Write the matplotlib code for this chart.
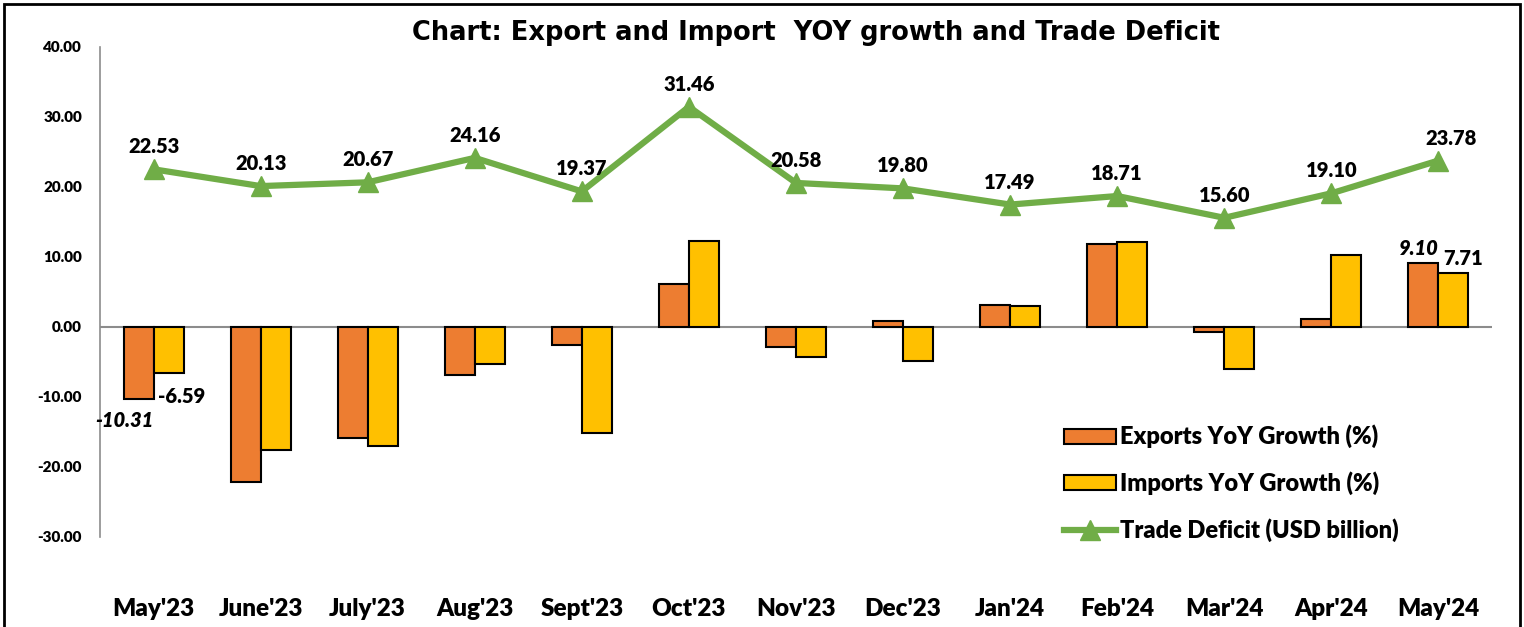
import numpy as np
import matplotlib
matplotlib.use("Agg")
import matplotlib.pyplot as plt
from matplotlib.patches import Rectangle

plt.rcParams['font.family'] = ['Lato', 'DejaVu Sans']

# data
months = ["May'23", "June'23", "July'23", "Aug'23", "Sept'23", "Oct'23", "Nov'23",
          "Dec'23", "Jan'24", "Feb'24", "Mar'24", "Apr'24", "May'24"]
exports = [-10.31, -22.1, -15.9, -6.9, -2.6, 6.1, -2.9, 0.9, 3.1, 11.9, -0.7, 1.1, 9.10]
imports = [-6.59, -17.6, -17.0, -5.3, -15.1, 12.3, -4.3, -4.9, 3.0, 12.1, -6.0, 10.3, 7.71]
deficit = [22.53, 20.13, 20.67, 24.16, 19.37, 31.46, 20.58, 19.80, 17.49, 18.71, 15.60, 19.10, 23.78]
yticks = [-30, -20, -10, 0, 10, 20, 30, 40]

W, H = 1524, 627
fig = plt.figure(figsize=(W / 100, H / 100), dpi=100)
ax = fig.add_axes([100 / W, 1 - 537 / H, 1392 / W, 490 / H])

x = np.arange(len(months))
bw = 0.28
b1 = ax.bar(x - bw / 2, exports, bw, color='#ED7D31', edgecolor='black', linewidth=1.5,
            label='Exports YoY Growth (%)', zorder=3)
b2 = ax.bar(x + bw / 2, imports, bw, color='#FFC000', edgecolor='black', linewidth=1.5,
            label='Imports YoY Growth (%)', zorder=3)
ln, = ax.plot(x, deficit, color='#70AD47', linewidth=4.5, marker='^', markersize=15,
              label='Trade Deficit (USD billion)', zorder=4)

ax.axhline(0, color='#8c8c8c', linewidth=1.5, zorder=2)

lab = dict(fontsize=14.5, fontweight='heavy')

# line labels
for i, v in enumerate(deficit):
    dx = 13 if i == len(deficit) - 1 else 0
    ax.annotate(f'{v:.2f}', (x[i], v), xytext=(dx, 13), textcoords='offset pixels',
                ha='center', va='bottom', zorder=5, **lab)

# bar labels on first and last month
ax.annotate(f'{exports[0]:.2f}', (x[0], exports[0]), xytext=(0, -12), textcoords='offset pixels',
            ha='right', va='top', style='italic', **lab)
ax.annotate(f'{imports[0]:.2f}', (x[0] + bw, imports[0]), xytext=(-2, -14), textcoords='offset pixels',
            ha='center', va='top', **lab)
ax.annotate(f'{exports[-1]:.2f}', (x[-1], exports[-1]), xytext=(0, 5), textcoords='offset pixels',
            ha='right', va='bottom', style='italic', **lab)
ax.annotate(f'{imports[-1]:.2f}', (x[-1], imports[-1]), xytext=(5, 5), textcoords='offset pixels',
            ha='left', va='bottom', **lab)

ax.set_xlim(-0.5, len(months) - 0.5)
ax.set_ylim(-30, 40)
ax.set_yticks(yticks)
ax.set_yticklabels([f'{t:.2f}' for t in yticks], fontsize=11, fontweight='heavy')
ax.set_xticks(x)
ax.set_xticklabels(months, fontsize=17.5, fontweight='heavy')
ax.tick_params(axis='y', length=0, pad=13)
ax.tick_params(axis='x', length=0, pad=44)

for s in ['top', 'right', 'bottom']:
    ax.spines[s].set_visible(False)
ax.spines['left'].set_color('#8c8c8c')
ax.spines['left'].set_linewidth(1.2)

ax.legend([b1, b2, ln], [b1.get_label(), b2.get_label(), ln.get_label()],
          loc='upper left', bbox_to_anchor=(1052 / W, 1 - 413 / H), bbox_transform=fig.transFigure,
          frameon=False, prop={'size': 17, 'weight': 'heavy'}, handlelength=2.2, numpoints=1,
          handleheight=0.6, labelspacing=0.98, handletextpad=0.2, borderpad=0)

fig.text(816 / W, 1 - 33 / H, 'Chart: Export and Import  YOY growth and Trade Deficit',
         ha='center', va='center', fontsize=18.5, fontweight='bold', family='DejaVu Sans')

fig.patches.append(Rectangle((4 / W, -0.05), 1516 / W, 1.05 - 4 / H, transform=fig.transFigure,
                             fill=False, edgecolor='black', linewidth=2))

fig.savefig('out.png', dpi=100)
